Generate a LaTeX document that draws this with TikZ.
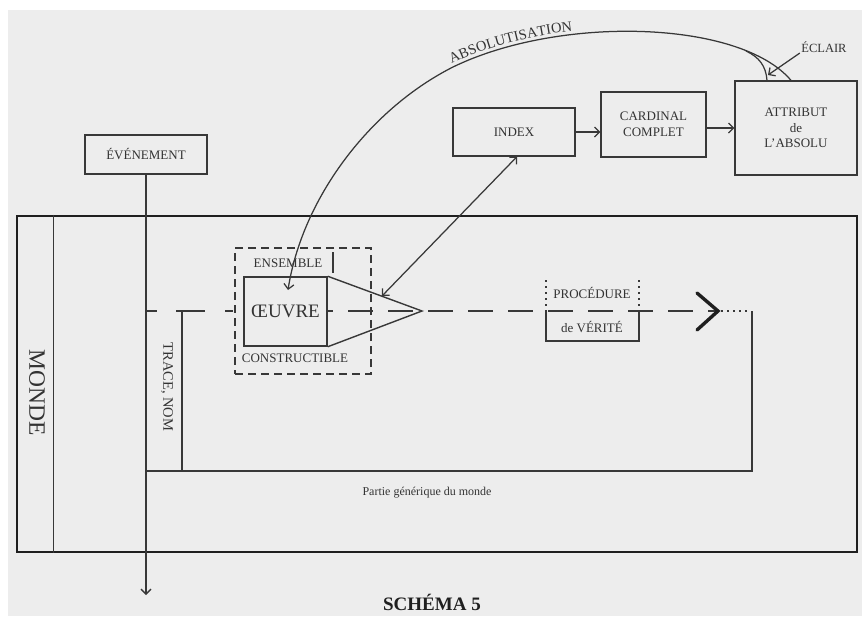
\documentclass[tikz,border=0pt]{standalone}
\usepackage{fontspec}
\setmainfont{Liberation Serif}
\usetikzlibrary{arrows.meta,decorations.text,calc}
\definecolor{bg}{HTML}{EDEDED}
\definecolor{ink}{HTML}{383838}
\definecolor{dark}{HTML}{1F1F1F}
\definecolor{txt}{HTML}{333333}
\begin{document}
\begin{tikzpicture}[x=1pt,y=1pt,line width=1.25pt,color=ink,
  arr/.style={-{Straight Barb[length=5pt,width=10pt]}},
  box/.style={draw=ink,rectangle,inner sep=0pt,fill=bg,text=txt,align=center,
    font=\fontsize{13}{15.5}\selectfont},
  lbl/.style={inner sep=0pt,text=txt,align=center,font=\fontsize{13}{15.5}\selectfont},
  bigdash/.style={dash pattern=on 25pt off 15pt},
  smalldash/.style={dash pattern=on 8pt off 5pt},
  dots/.style={dash pattern=on 1.5pt off 4.5pt},
]
\useasboundingbox (0,0) rectangle (862,-616);
\fill[white] (0,0) rectangle (862,-616);
\fill[bg] (8,-10) rectangle (862,-616);

% MONDE frame
\node[draw=dark,line width=2.8pt,rectangle,minimum width=840,minimum height=336,inner sep=0pt] (monde) at (437,-384) {};
\draw[line width=1.3pt] ($(monde.north west)+(38,0)$) -- ($(monde.south west)+(38,0)$);
\node[lbl,rotate=-90,font=\fontsize{23.5}{23.5}\selectfont] (mondelbl) at (37,-393) {MONDE};

% top boxes
\node[box,minimum width=122,minimum height=39] (ev) at (146,-154.5) {ÉVÉNEMENT};
\node[box,minimum width=122,minimum height=48] (index) at (514,-132) {INDEX};
\node[box,minimum width=105,minimum height=65] (card) at (653.5,-124.5) {CARDINAL\\COMPLET};
\node[box,minimum width=122,minimum height=94] (attr) at (796,-128) {ATTRIBUT\\de\\L'ABSOLU};
\draw[arr] (index.east) -- (index.east -| card.west);
\draw[arr] (card.east |- attr.west) -- (attr.west);

% evenement vertical line
\coordinate (evend) at (146,-595);
\draw[arr] (ev.south) -- (evend);

% dashed main line
\coordinate (d0) at (146,-311);
\coordinate (chev) at (718,-311);
\draw (d0) -- ++(11,0);
\draw (176,-311) -- (205,-311);
\draw (225,-311) -- (233,-311);
\draw[bigdash,dash phase=19pt] (327,-311) -- (chev);

% trace line and generic part
\coordinate (tr0) at (182,-311);
\coordinate (tr1) at (182,-471);
\draw (tr0) -- (tr1);
\node[lbl,rotate=-90,font=\fontsize{14.5}{14.5}\selectfont] (trace) at (167,-387) {TRACE, NOM};
\coordinate (c1) at (752,-311);
\coordinate (c2) at (752,-471);
\coordinate (c3) at (146,-471);
\draw[dots] (721,-311) -- (749,-311);
\draw (c1) -- (c2) -- (c3);
\node[lbl,font=\fontsize{12}{12}\selectfont] (partie) at (427,-493) {Partie générique du monde};

% chevron
\draw[dark,line width=3.4pt,line cap=round,line join=miter] (697,-293) -- (chev) -- (697,-330);

% ensemble constructible
\node[draw=ink,smalldash,rectangle,minimum width=136,minimum height=126,inner sep=0pt] (ens) at (303,-311) {};
\node[lbl] (enslbl) at (288,-263) {ENSEMBLE};
\draw (333,-252) -- (333,-273);
\node[lbl] (conslbl) at (295,-358) {CONSTRUCTIBLE};
\node[box,line width=1.5pt,minimum width=83,minimum height=69,font=\fontsize{19}{19}\selectfont] (oeuvre) at (285.5,-311.5) {ŒUVRE};
\coordinate (trtip) at (422,-311);
\draw[line width=1.4pt] (oeuvre.north east) -- (trtip) -- (oeuvre.south east);

% procedure de verite
\draw[dots] (546,-280) -- (546,-311);
\draw[dots] (639,-280) -- (639,-311);
\draw (546,-311) -- (546,-341) -- (639,-341) -- (639,-311);
\node[lbl] (proc) at (592,-293) {PROCÉDURE};
\node[lbl] (verite) at (592,-327) {de VÉRITÉ};

% double arrow index <-> oeuvre triangle
\coordinate (triedge) at (382,-296);
\draw[{Straight Barb[length=5pt,width=10pt]}-{Straight Barb[length=5pt,width=10pt]}] (triedge) -- ($(index.south)+(3,0)$);

% absolutisation
\coordinate (abs0) at ($(attr.north)+(-5,0)$);
\coordinate (absend) at (288,-290);
\draw[arr] (abs0) .. controls (740,-20) and (560,-15) .. (453,-67) .. controls (368,-110) and (302,-200) .. (absend);
\draw ($(attr.north)+(-29,0)$) .. controls (766,-66) and (759,-57) .. (746,-51);
\path[decorate,decoration={text along path,raise=3.5pt,text align={left},
  text={|\fontsize{14.5}{14.5}\selectfont\color{txt}|ABSOLUTISATION}}]
  (453,-67) .. controls (560,-15) and (740,-20) .. (791,-81);

% eclair
\node[lbl,font=\fontsize{12.5}{12.5}\selectfont] (ecl) at (824,-47) {ÉCLAIR};
\draw[arr] ($(ecl.south west)+(-1,0)$) -- (768,-75);

% title
\node[lbl,anchor=base,font=\bfseries\fontsize{19}{19}\selectfont,text=dark] (title) at (432,-610) {SCHÉMA 5};
\end{tikzpicture}
\end{document}
